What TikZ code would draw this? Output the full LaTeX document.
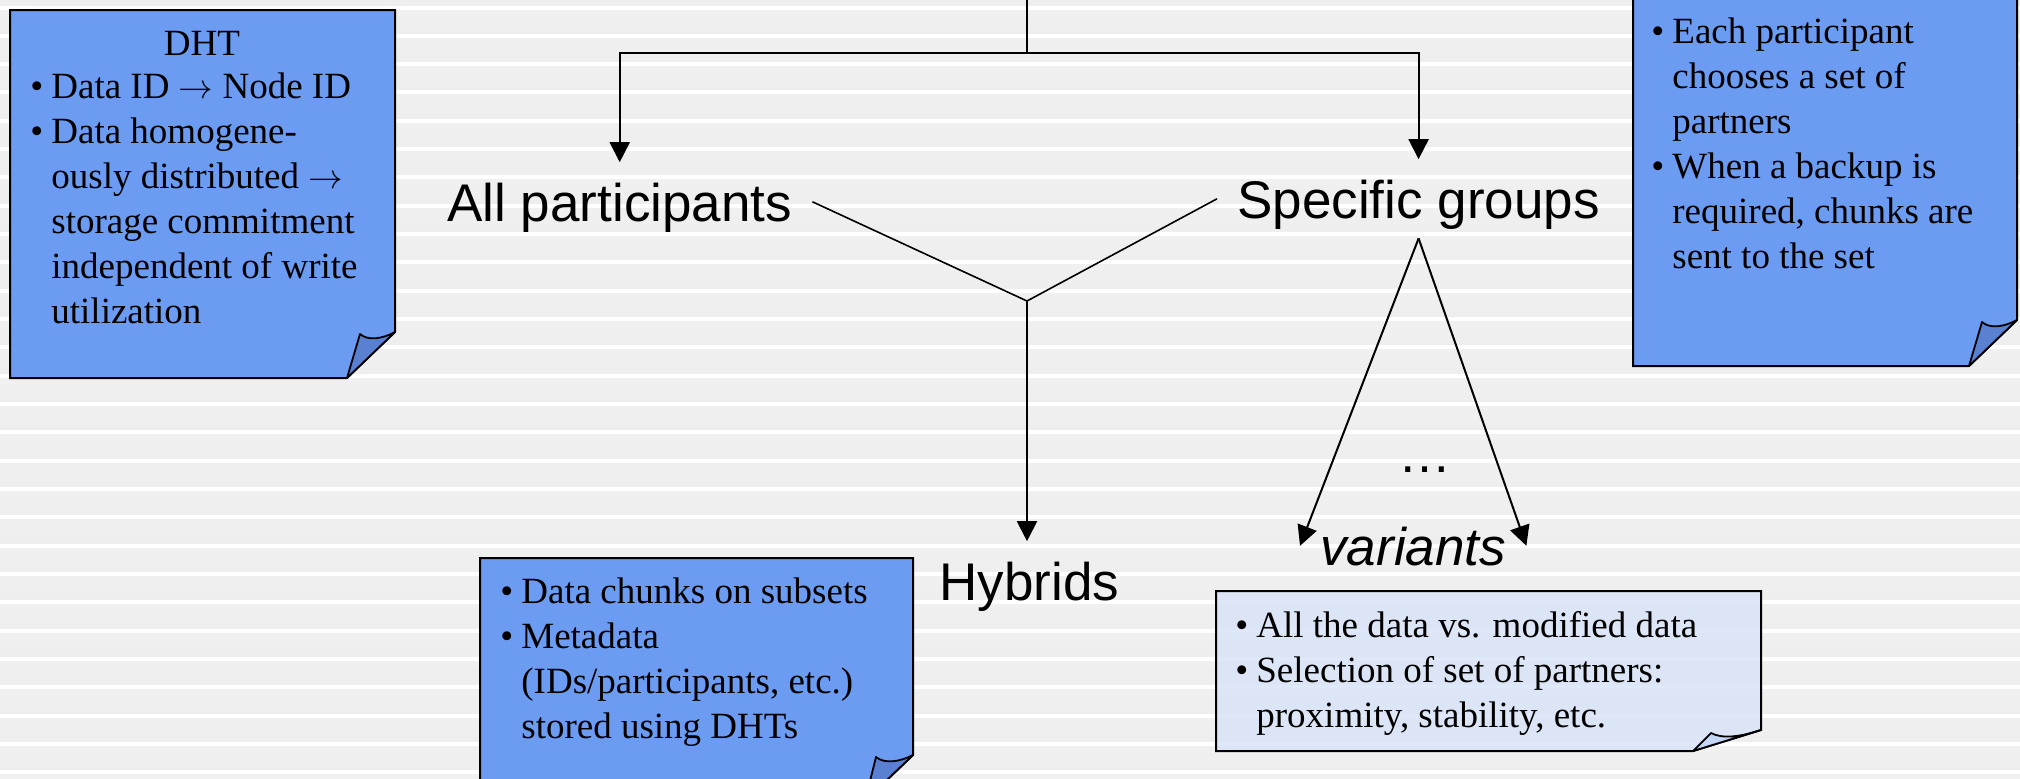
\documentclass[tikz,border=0pt]{standalone}
\usepackage{fontspec}
\setmainfont{Liberation Serif}
\newfontfamily\labelfont{Liberation Sans}
\usetikzlibrary{arrows.meta}

\definecolor{notefill}{HTML}{6C9BF2}
\definecolor{flapfill}{HTML}{5A80D2}
\definecolor{varfill}{HTML}{D8E3F7}
\definecolor{varflap}{HTML}{C6D6F6}
\definecolor{stripeA}{HTML}{F0F0F0}
\definecolor{stripeB}{HTML}{E4E4E4}
\definecolor{stripeC}{HTML}{EEEEEE}

% bullet, hanging indent and arrow used inside the notes
\newcommand\noteitem{\makebox[10.5pt][l]{\textbullet}}
\newcommand\noteindent{\hspace*{10.5pt}}
\newcommand\notearrow{$\rightarrow$}

\tikzset{
  biglabel/.style={font=\labelfont\fontsize{26.5pt}{32pt}\selectfont,
    inner xsep=10pt, inner ysep=10pt, text depth=0pt, anchor=base west},
  notetext/.style={font=\fontsize{18.5pt}{22.5pt}\selectfont, align=left,
    inner sep=0pt, anchor=north west},
  notebody/.style={fill=notefill, draw=black, line width=1pt, line join=miter},
  noteflap/.style={fill=flapfill, draw=black, line width=0.9pt, line join=round},
  varbody/.style={fill=varfill, fill opacity=0.8, draw=black, draw opacity=1, line width=1pt},
  varflapst/.style={fill=varflap, draw=black, line width=0.9pt, line join=round},
  conn/.style={draw=black, line width=1pt},
  arrowconn/.style={conn, -{Triangle[length=10pt,width=10pt]}},
  yline/.style={draw=black, line width=0.8pt},
}

\begin{document}
\begin{tikzpicture}[x=0.5pt,y=-0.5pt]
\useasboundingbox (0,0) rectangle (2020,778);
\clip (0,0) rectangle (2020,778);

% striped backdrop
\fill[white] (0,0) rectangle (2020,778);
\foreach \k in {-1,...,27} {
  \pgfmathsetmacro\ys{5+28.33*\k}
  \shade[top color=stripeA, middle color=stripeB, bottom color=stripeC]
    (0,\ys+5) rectangle (2020,\ys+28.33);
}

% DHT note
\draw[notebody] (10,10) -- (395,10) -- (395,332) -- (347,378) -- (10,378) -- cycle;
\draw[noteflap] (347,378) -- (360,334) .. controls (368,341) and (382,339) .. (395,332) -- cycle;
\node[font=\fontsize{18.5pt}{22.5pt}\selectfont, inner sep=0pt, anchor=base] (dhttitle) at (202,55) {DHT};
\node[notetext] (dhtlist) at (30,72) {\rule{0pt}{13pt}\noteitem Data ID \notearrow{} Node ID\\
  \noteitem Data homogene-\\
  \noteindent ously distributed \notearrow\\
  \noteindent storage commitment\\
  \noteindent independent of write\\
  \noteindent utilization};

% partner-set note
\draw[notebody] (1633,-10) -- (2017,-10) -- (2017,320) -- (1969,366) -- (1633,366) -- cycle;
\draw[noteflap] (1969,366) -- (1982,322) .. controls (1990,329) and (2004,327) .. (2017,320) -- cycle;
\node[notetext] (partnerlist) at (1651,17) {\rule{0pt}{13pt}\noteitem Each participant\\
  \noteindent chooses a set of\\
  \noteindent partners\\
  \noteitem When a backup is\\
  \noteindent required, chunks are\\
  \noteindent sent to the set};

% hybrids note
\draw[notebody] (480,558) -- (913,558) -- (913,755) -- (865,801) -- (480,801) -- cycle;
\draw[noteflap] (865,801) -- (876,757) .. controls (884,764) and (900,762) .. (913,755) -- cycle;
\node[notetext] (hyblist) at (500,577) {\rule{0pt}{13pt}\noteitem Data chunks on subsets\\
  \noteitem Metadata\\
  \noteindent (IDs/participants, etc.)\\
  \noteindent stored using DHTs};

% variants note
\draw[varbody] (1216,591) -- (1761,591) -- (1761,730) -- (1693,751) -- (1216,751) -- cycle;
\draw[varflapst] (1693,751) -- (1711,733) .. controls (1722,739) and (1740,737) .. (1761,730) -- cycle;
\node[notetext] (varlist) at (1235,611) {\rule{0pt}{13pt}\noteitem All the data vs. modified data\\
  \noteitem Selection of set of partners:\\
  \noteindent proximity, stability, etc.};

% labels
\node[biglabel] (allp) at (427,221) {All participants};
\node[biglabel] (specg) at (1217,218) {Specific groups};
\node[biglabel] (hyb) at (919,600) {Hybrids};
\node[biglabel] (var) at (1300,565) {\itshape variants};
\node[font=\labelfont\fontsize{26.5pt}{32pt}\selectfont, inner sep=0pt, anchor=base west] (dots) at (1398,472) {…};

% connectors
\coordinate (top) at (1027,-20);
\coordinate (split) at (1027,53);
\coordinate (join) at (1027,301);
\draw[conn] (top) -- (split);
\draw[arrowconn] (split) -| (allp.north);
\draw[arrowconn] (split) -| (specg.north);
\draw[yline] (allp.east) -- (join) -- (specg.west);
\draw[arrowconn] (join) -- (join |- hyb.north);
\draw[arrowconn] (specg.south) -- (var.west);
\draw[arrowconn] (specg.south) -- (var.east);
\end{tikzpicture}
\end{document}
